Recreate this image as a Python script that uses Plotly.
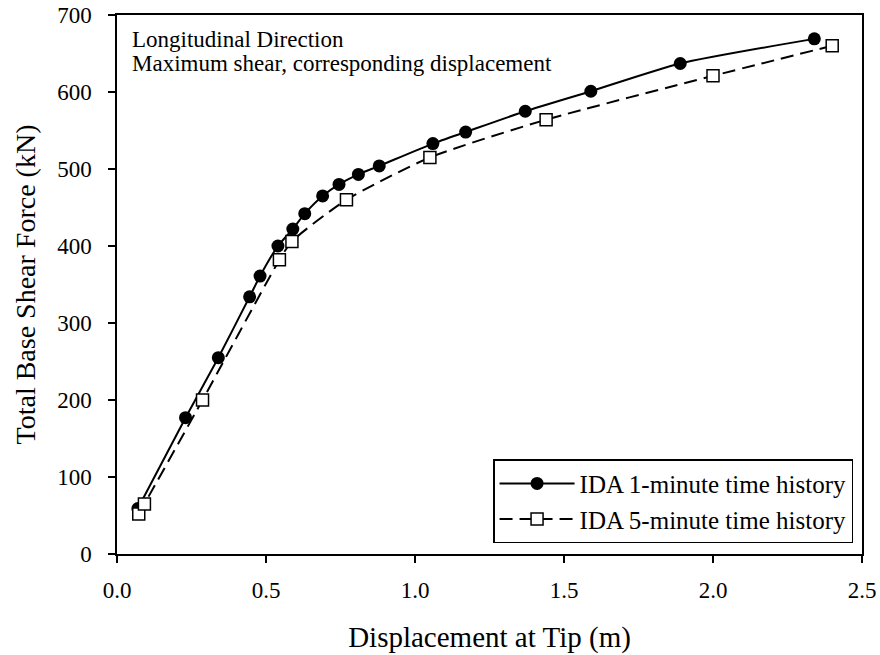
import plotly.graph_objects as go

# IDA results: tip displacement (m) vs. total base shear (kN)
disp_1min = [0.07, 0.23, 0.34, 0.445, 0.48, 0.54, 0.59, 0.63, 0.69, 0.745, 0.81, 0.88,
             1.06, 1.17, 1.37, 1.59, 1.89, 2.34]
shear_1min = [59, 177, 255, 334, 361, 400, 422, 442, 465, 480, 493, 504,
              533, 548, 575, 601, 637, 669]

disp_5min = [0.073, 0.092, 0.287, 0.545, 0.587, 0.77, 1.05, 1.44, 2.00, 2.40]
shear_5min = [52, 65, 200, 382, 406, 460, 515, 564, 621, 660]

x_ticks = [0.0, 0.5, 1.0, 1.5, 2.0, 2.5]
x_tick_text = ["0.0", "0.5", "1.0", "1.5", "2.0", "2.5"]
y_ticks = [0, 100, 200, 300, 400, 500, 600, 700]

note_lines = ["Longitudinal Direction", "Maximum shear, corresponding displacement"]

FONT = "Liberation Serif, Times New Roman, serif"

fig = go.Figure()
fig.add_trace(go.Scatter(
    x=disp_1min, y=shear_1min, mode="lines+markers",
    name="IDA 1-minute time history",
    line=dict(color="black", width=2, shape="spline", smoothing=0.6),
    marker=dict(symbol="circle", size=13, color="black"),
))
fig.add_trace(go.Scatter(
    x=disp_5min, y=shear_5min, mode="lines+markers",
    name="IDA 5-minute time history",
    line=dict(color="black", width=2, dash="13px,7px", shape="spline", smoothing=0.6),
    marker=dict(symbol="square", size=12, color="white",
                line=dict(color="black", width=1.5)),
))

# two-line note in the upper-left corner of the plot area
for line_text, ypos in zip(note_lines, [0.955, 0.91]):
    fig.add_annotation(
        x=0, y=ypos, xref="paper", yref="paper", xanchor="left", yanchor="middle",
        xshift=14, showarrow=False, text=line_text, borderpad=0,
        font=dict(family=FONT, size=23, color="black"),
    )

axis_common = dict(
    showgrid=False, zeroline=False, showline=True, linecolor="black", linewidth=1.5,
    mirror=True, ticks="outside", ticklen=7, tickwidth=1.5, tickcolor="black",
    tickfont=dict(family=FONT, size=23, color="black"), automargin=False,
)

fig.update_xaxes(range=[0, 2.5], tickvals=x_ticks, ticktext=x_tick_text,
                 ticklabelstandoff=8,
                 title=dict(text="Displacement at Tip (m)", standoff=24,
                            font=dict(family=FONT, size=29, color="black")),
                 **axis_common)
fig.update_yaxes(range=[0, 700], tickvals=y_ticks, ticklabelstandoff=12,
                 title=dict(text="Total Base Shear Force (kN)", standoff=13,
                            font=dict(family=FONT, size=28, color="black")),
                 **axis_common)

fig.update_layout(
    width=880, height=655,
    margin=dict(l=117, r=18, t=15, b=101),
    paper_bgcolor="white", plot_bgcolor="white",
    showlegend=True,
    legend=dict(x=0.988, y=0.02, xanchor="right", yanchor="bottom",
                bgcolor="white", bordercolor="black", borderwidth=1.5,
                font=dict(family=FONT, size=25, color="black"),
                itemwidth=75, tracegroupgap=0),
)

fig.write_html("out.html")
